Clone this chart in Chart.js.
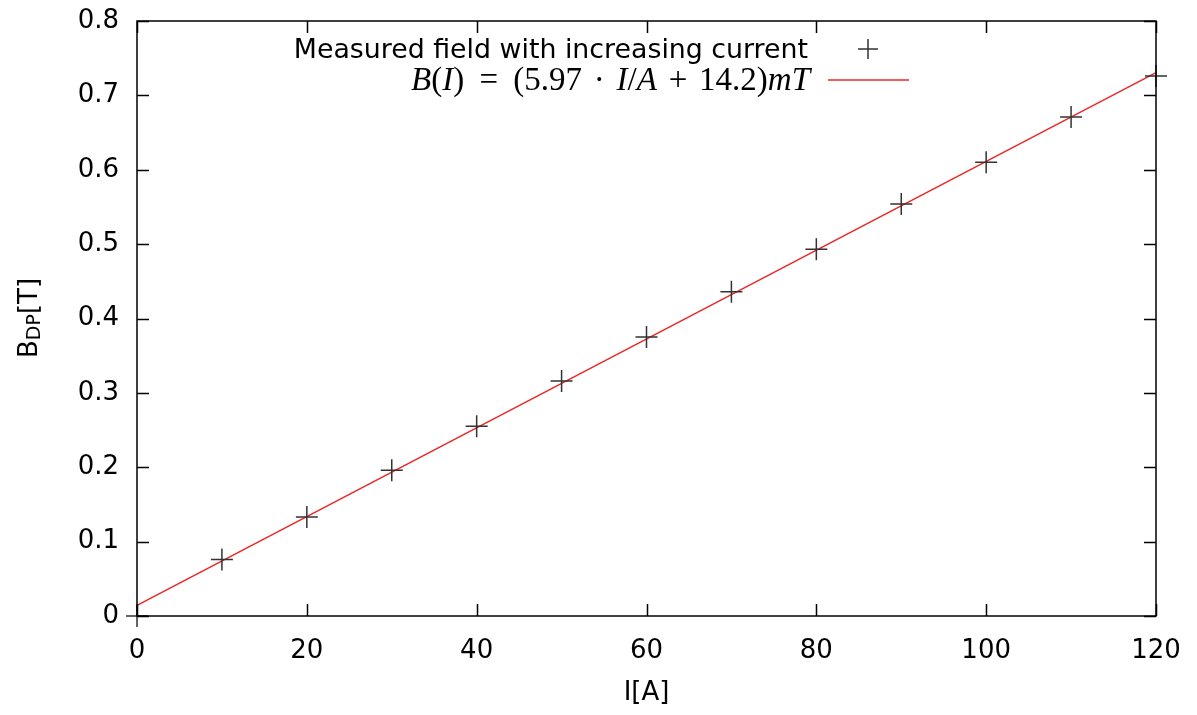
<!DOCTYPE html>
<html lang="en">
<head>
  <meta charset="UTF-8">
  <title>Measured field vs current</title>
  <script src="https://cdn.jsdelivr.net/npm/chart.js"></script>
  <style>
    html, body {
      margin: 0;
      padding: 0;
      background: #ffffff;
      overflow: hidden;
    }
  </style>
</head>
<body>
  <canvas id="fieldChart" width="1197" height="715"></canvas>

  <script>
    // measured points (current in A, field in T)
    const currents = [0, 10, 20, 30, 40, 50, 60, 70, 80, 90, 100, 110, 120];
    const fieldT = [0.0, 0.076, 0.133, 0.196, 0.255, 0.316, 0.375, 0.436, 0.493, 0.554, 0.610, 0.671, 0.726];

    // fitted line end points: B(I) = 5.97 mT/A * I + 14.2 mT
    const fitCurrents = [0, 120];
    const fitField = [0.0142, 0.7306];

    const xTicks = [0, 20, 40, 60, 80, 100, 120];
    const yTicks = [0, 0.1, 0.2, 0.3, 0.4, 0.5, 0.6, 0.7, 0.8];

    const legendLabel = 'Measured field with increasing current';
    // fit formula pieces: [text, italic, spacing weight around it]
    const fitLabel = [
      ['B', true, 0], ['(', false, 0], ['I', true, 0], [')', false, 0],
      ['=', false, 1.3], ['(5.97', false, 0], ['·', false, 1], ['I', true, 0],
      ['/', false, 0], ['A', true, 0], ['+', false, 1], ['14.2)', false, 0],
      ['mT', true, 0]
    ];

    const TICK_FONT = '26px "DejaVu Sans"';
    const RED = 'rgb(236, 38, 38)';

    const framePlugin = {
      id: 'frame',
      afterDraw(chart) {
        const { ctx, chartArea: a, scales: { x, y } } = chart;
        ctx.save();
        ctx.strokeStyle = '#000';
        ctx.lineWidth = 1.5;
        ctx.strokeRect(a.left, a.top, a.right - a.left, a.bottom - a.top);

        // inward ticks on all four sides
        ctx.beginPath();
        xTicks.forEach(v => {
          const px = Math.round(x.getPixelForValue(v)) + 0.5;
          ctx.moveTo(px, a.bottom); ctx.lineTo(px, a.bottom - 12);
          ctx.moveTo(px, a.top); ctx.lineTo(px, a.top + 12);
        });
        yTicks.forEach(v => {
          const py = Math.round(y.getPixelForValue(v)) + 0.5;
          ctx.moveTo(a.left, py); ctx.lineTo(a.left + 12, py);
          ctx.moveTo(a.right, py); ctx.lineTo(a.right - 12, py);
        });
        ctx.stroke();

        // legend: measured points
        ctx.fillStyle = '#000';
        ctx.font = '26.8px "DejaVu Sans"';
        ctx.textAlign = 'right';
        ctx.textBaseline = 'alphabetic';
        ctx.fillText(legendLabel, 808, 58);

        ctx.strokeStyle = '#333';
        ctx.lineWidth = 1.5;
        ctx.beginPath();
        ctx.moveTo(858, 49); ctx.lineTo(878, 49);
        ctx.moveTo(868, 39); ctx.lineTo(868, 59);
        ctx.stroke();

        // legend: fit formula, 411..810 wide
        ctx.textAlign = 'left';
        const fontFor = it => (it ? 'italic ' : '') + '33px "Liberation Serif"';
        let natural = 0, weights = 0;
        fitLabel.forEach(([t, it, sp]) => {
          ctx.font = fontFor(it);
          natural += ctx.measureText(t).width;
          weights += 2 * sp;
        });
        const unit = Math.max(0, (810 - 411 - natural) / weights);
        let cx = 411;
        fitLabel.forEach(([t, it, sp]) => {
          ctx.font = fontFor(it);
          cx += unit * sp;
          ctx.fillText(t, cx, 90);
          cx += ctx.measureText(t).width + unit * sp;
        });
        ctx.strokeStyle = RED;
        ctx.lineWidth = 1.5;
        ctx.beginPath();
        ctx.moveTo(828, 80); ctx.lineTo(909, 80);
        ctx.stroke();

        // y axis title B_DP[T], rotated
        ctx.translate(37, 318);
        ctx.rotate(-Math.PI / 2);
        ctx.fillStyle = '#000';
        const parts = [['B', TICK_FONT, 0], ['DP', '19px "DejaVu Sans"', 3], ['[T]', TICK_FONT, 0]];
        let w = 0;
        parts.forEach(([t, f]) => { ctx.font = f; w += ctx.measureText(t).width; });
        let tx = -w / 2;
        parts.forEach(([t, f, dy]) => {
          ctx.font = f;
          ctx.fillText(t, tx, dy);
          tx += ctx.measureText(t).width;
        });
        ctx.restore();
      }
    };

    new Chart(document.getElementById('fieldChart'), {
      type: 'scatter',
      data: {
        datasets: [
          {
            label: 'fit',
            data: fitCurrents.map((c, i) => ({ x: c, y: fitField[i] })),
            showLine: true,
            borderColor: RED,
            borderWidth: 1.5,
            pointRadius: 0,
            clip: false,
            order: 2
          },
          {
            label: legendLabel,
            data: currents.map((c, i) => ({ x: c, y: fieldT[i] })),
            pointStyle: 'cross',
            pointRadius: 11,
            pointHoverRadius: 11,
            borderColor: '#333',
            backgroundColor: '#333',
            borderWidth: 1.5,
            clip: false,
            order: 1
          }
        ]
      },
      options: {
        responsive: false,
        animation: false,
        events: [],
        layout: { padding: { left: 0, top: 21, right: 41, bottom: 0 } },
        plugins: {
          legend: { display: false },
          tooltip: { enabled: false }
        },
        scales: {
          x: {
            type: 'linear',
            min: 0,
            max: 120,
            afterBuildTicks: s => { s.ticks = xTicks.map(v => ({ value: v })); },
            afterFit: s => { s.height = 99; s.paddingLeft = 0; s.paddingRight = 0; },
            grid: { display: false, drawTicks: false },
            border: { display: false },
            ticks: {
              color: '#000',
              font: { family: 'DejaVu Sans', size: 26 },
              padding: 20,
              maxRotation: 0
            },
            title: {
              display: true,
              text: 'I[A]',
              color: '#000',
              font: { family: 'DejaVu Sans', size: 26 },
              padding: { top: 0, bottom: 6 }
            }
          },
          y: {
            type: 'linear',
            min: 0,
            max: 0.8,
            afterBuildTicks: s => { s.ticks = yTicks.map(v => ({ value: v })); },
            afterFit: s => { s.width = 137; s.paddingTop = 0; s.paddingBottom = 0; },
            grid: { display: false, drawTicks: false },
            border: { display: false },
            ticks: {
              color: '#000',
              font: { family: 'DejaVu Sans', size: 26 },
              padding: 18,
              callback: v => (v === 0 ? '0' : v.toFixed(1))
            }
          }
        }
      },
      plugins: [framePlugin]
    });
  </script>
</body>
</html>
